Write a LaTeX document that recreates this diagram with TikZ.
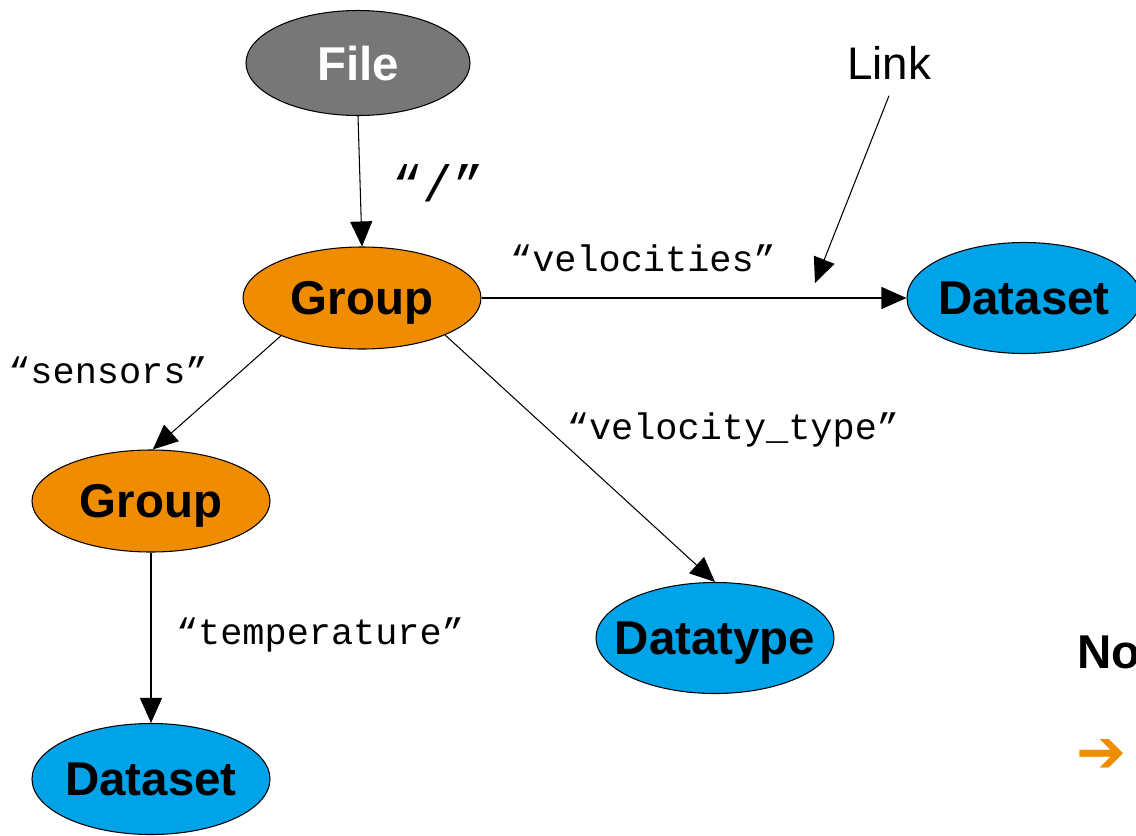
\documentclass[tikz,border=0pt]{standalone}
\usepackage{fontspec}
\setmainfont{Liberation Sans}
\setmonofont{Liberation Mono}
\newfontfamily\symfont{DejaVu Sans}
\usetikzlibrary{shapes.geometric,arrows.meta}
\definecolor{filegray}{RGB}{119,119,119}
\definecolor{grouporange}{RGB}{240,140,0}
\definecolor{datablue}{RGB}{0,162,232}
\begin{document}
\begin{tikzpicture}[x=0.2mm,y=-0.2mm,
  obj/.style={ellipse,draw=black,line width=0.6pt,inner xsep=-12mm,inner ysep=0pt,
    text depth=0pt,minimum width=47.6mm,minimum height=21mm,
    font=\fontsize{27}{30}\selectfont\bfseries},
  grp/.style={obj,fill=grouporange,minimum height=20.4mm},
  dset/.style={obj,fill=datablue,minimum height=22.2mm},
  lbl/.style={font=\fontsize{21}{24}\selectfont\ttfamily},
  edge/.style={line width=0.6pt,-{Triangle[length=5mm,width=4.4mm]}}]
  \useasboundingbox (0,0) rectangle (1136,835);
  \node[obj,fill=filegray,text=white,minimum width=44.8mm] (file) at (358,63) {File};
  \node[grp] (root) at (362,298) {Group};
  \node[grp] (sensors) at (151,501) {Group};
  \node[dset,minimum width=46.8mm] (vel) at (1024,298) {Dataset};
  \node[dset] (vtype) at (715,638) {Datatype};
  \node[dset] (temp) at (151,779) {Dataset};
  \node[font=\fontsize{26}{30}\selectfont] (link) at (889,63) {Link};
  \coordinate (linkend) at (815,283);
  \draw[edge] (file.south) -- (root.north);
  \draw[edge] (root) -- (vel);
  \draw[edge] (root.205) -- (sensors.88);
  \draw[edge] (root.-24) -- (vtype.north);
  \draw[edge] (sensors) -- (temp);
  \draw[edge] (link.south) ++(0,10) -- (linkend);
  \node[lbl,font=\fontsize{29}{32}\selectfont\ttfamily] (lroot) at (438,183) {“/”};
  \node[lbl] (lvel) at (643,258) {“velocities”};
  \node[lbl] (lsens) at (108,370) {“sensors”};
  \node[lbl] (lvtype) at (733,430) {“velocity\_type”};
  \node[lbl] (ltemp) at (320,635) {“temperature”};
  \node[anchor=west,font=\fontsize{27}{30}\selectfont\bfseries] (note) at (1071,652) {No};
  \node[text=grouporange,font=\fontsize{34}{38}\selectfont\symfont] (bullet) at (1102,756) {➔};
\end{tikzpicture}
\end{document}
